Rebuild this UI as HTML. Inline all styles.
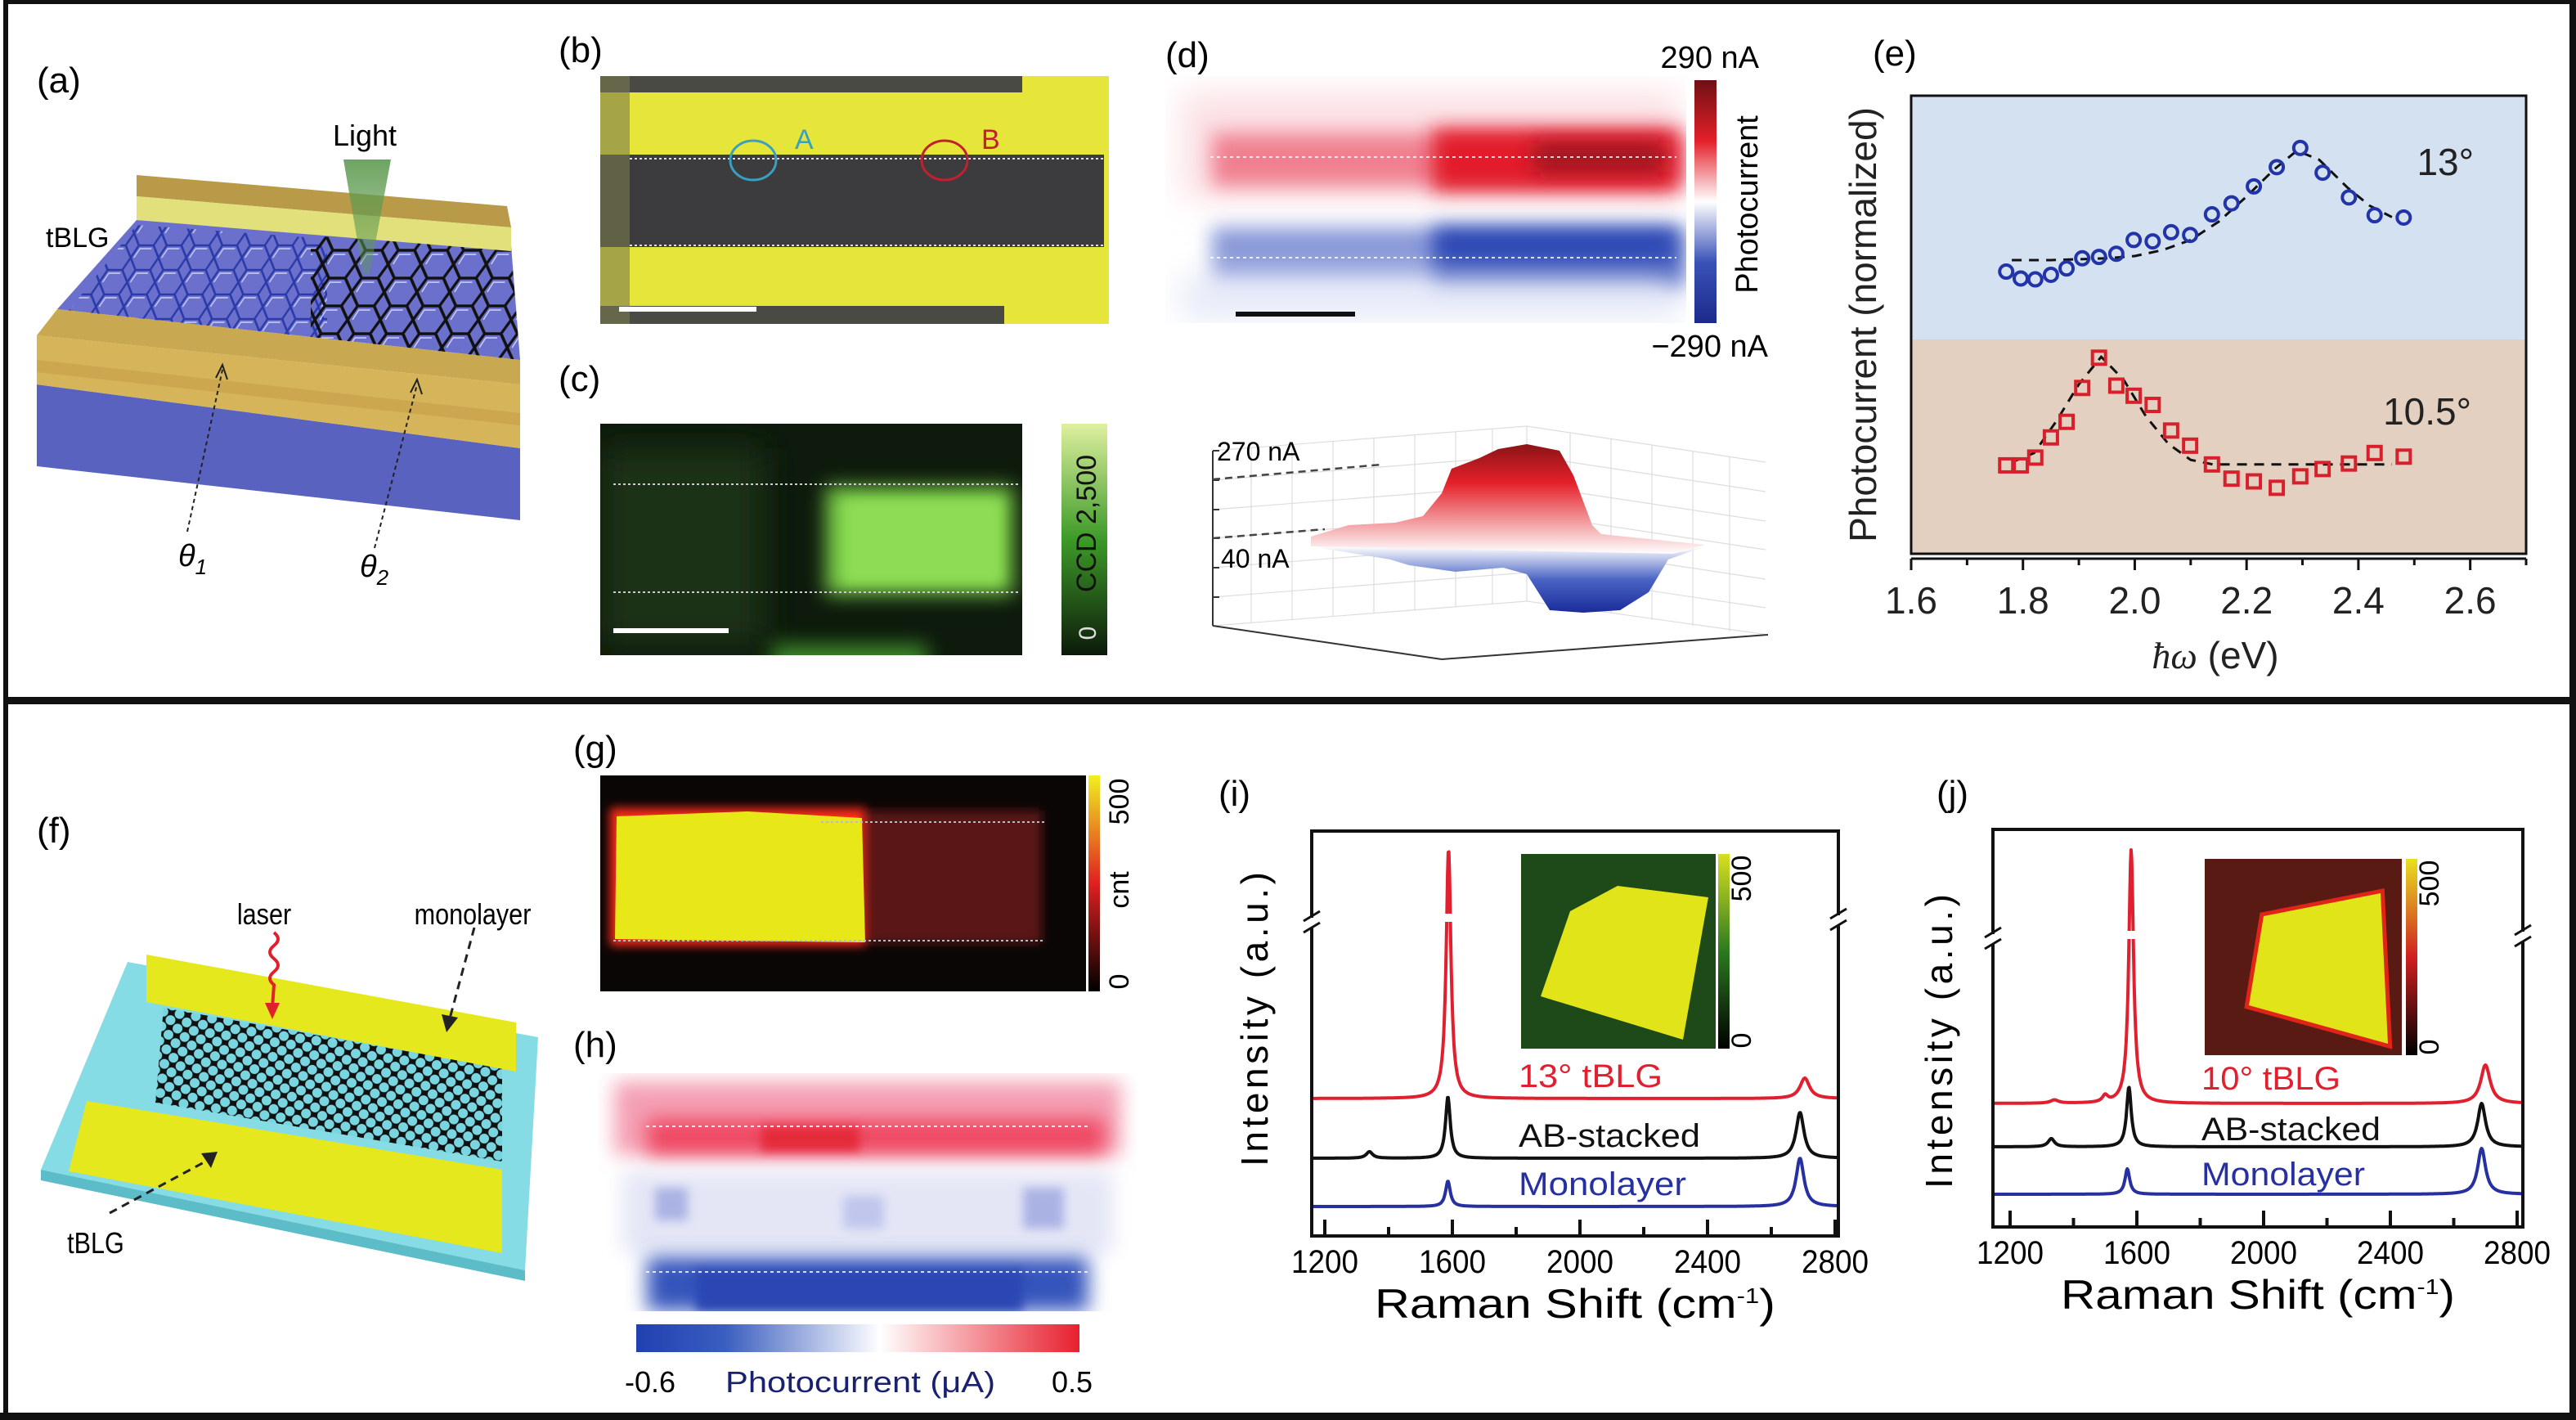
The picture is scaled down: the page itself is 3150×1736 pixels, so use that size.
<!DOCTYPE html>
<html><head><meta charset="utf-8">
<style>
html,body{margin:0;padding:0;background:#fff;}
svg{display:block;}
text{font-family:"Liberation Sans",sans-serif;}
</style></head>
<body>
<svg id="fig" xmlns="http://www.w3.org/2000/svg" width="3150" height="1736" viewBox="0 0 3150 1736">
<defs>
  <filter id="blur6" x="-50%" y="-200%" width="200%" height="500%"><feGaussianBlur stdDeviation="6"/></filter>
  <filter id="blur12" x="-50%" y="-200%" width="200%" height="500%"><feGaussianBlur stdDeviation="12"/></filter>
  <filter id="blur20" x="-50%" y="-200%" width="200%" height="500%"><feGaussianBlur stdDeviation="20"/></filter>
  <pattern id="hexBlue" width="34" height="30" patternUnits="userSpaceOnUse" patternTransform="skewX(-8)">
    <path d="M0 15 L8 0 L26 0 L34 15 L26 30 L8 30 Z" fill="none" stroke="#2a3aa8" stroke-width="2.5"/>
    <path d="M4 15 L10 4 L24 4" fill="none" stroke="#c8ccf0" stroke-width="1.5"/>
  </pattern>
  <pattern id="hexBlack" width="40" height="34" patternUnits="userSpaceOnUse" patternTransform="skewX(-8)">
    <path d="M0 17 L10 0 L30 0 L40 17 L30 34 L10 34 Z" fill="none" stroke="#111" stroke-width="3.5"/>
    <path d="M6 17 L12 5 L26 5" fill="none" stroke="#d0d4f4" stroke-width="1.5"/>
  </pattern>
  <pattern id="hexF" width="20" height="18" patternUnits="userSpaceOnUse" patternTransform="rotate(8)">
    <rect width="20" height="18" fill="#111"/>
    <circle cx="10" cy="9" r="6" fill="#79d6e0"/>
    <circle cx="0" cy="0" r="6" fill="#79d6e0"/>
    <circle cx="20" cy="0" r="6" fill="#79d6e0"/>
    <circle cx="0" cy="18" r="6" fill="#79d6e0"/>
    <circle cx="20" cy="18" r="6" fill="#79d6e0"/>
  </pattern>
  <linearGradient id="gCbarD" x1="0" y1="0" x2="0" y2="1">
    <stop offset="0" stop-color="#6e1014"/><stop offset="0.25" stop-color="#e4202a"/>
    <stop offset="0.5" stop-color="#ffffff"/><stop offset="0.75" stop-color="#3a52b8"/>
    <stop offset="1" stop-color="#1c2a8a"/>
  </linearGradient>
  <linearGradient id="gCbarC" x1="0" y1="1" x2="0" y2="0">
    <stop offset="0" stop-color="#0c1a0a"/><stop offset="0.5" stop-color="#3d9a28"/>
    <stop offset="1" stop-color="#dff0a0"/>
  </linearGradient>
  <linearGradient id="gCbarG" x1="0" y1="1" x2="0" y2="0">
    <stop offset="0" stop-color="#000"/><stop offset="0.5" stop-color="#e02020"/>
    <stop offset="1" stop-color="#f0f020"/>
  </linearGradient>
  <linearGradient id="gCbarH" x1="0" y1="0" x2="1" y2="0">
    <stop offset="0" stop-color="#2040b0"/><stop offset="0.2" stop-color="#3a5ec0"/>
    <stop offset="0.55" stop-color="#ffffff"/><stop offset="1" stop-color="#e8202e"/>
  </linearGradient>
  <linearGradient id="gCbarI" x1="0" y1="1" x2="0" y2="0">
    <stop offset="0" stop-color="#000"/><stop offset="0.5" stop-color="#2c7a20"/>
    <stop offset="1" stop-color="#d8e020"/>
  </linearGradient>
  <linearGradient id="gCbarJ" x1="0" y1="1" x2="0" y2="0">
    <stop offset="0" stop-color="#000"/><stop offset="0.5" stop-color="#d02020"/>
    <stop offset="1" stop-color="#e8e020"/>
  </linearGradient>
  <linearGradient id="gMount" x1="0" y1="0" x2="0" y2="1">
    <stop offset="0" stop-color="#8a1418"/><stop offset="0.35" stop-color="#e42028"/>
    <stop offset="1" stop-color="#ffffff"/>
  </linearGradient>
  <linearGradient id="gValley" x1="0" y1="0" x2="0" y2="1">
    <stop offset="0" stop-color="#ffffff"/><stop offset="0.5" stop-color="#4a64c4"/>
    <stop offset="1" stop-color="#1a2c9a"/>
  </linearGradient>
  <linearGradient id="gLight" x1="0" y1="0" x2="0" y2="1">
    <stop offset="0" stop-color="#5e9a50" stop-opacity="0.9"/><stop offset="1" stop-color="#5e9a50" stop-opacity="0.4"/>
  </linearGradient>
</defs>

<!-- frames -->
<rect x="0" y="0" width="3150" height="1736" fill="#fff"/>
<rect x="4" y="0" width="6" height="1736" fill="#111"/>
<rect x="3142" y="0" width="8" height="1736" fill="#111"/>
<rect x="4" y="0" width="3146" height="5" fill="#111"/>
<rect x="4" y="852" width="3146" height="9" fill="#111"/>
<rect x="0" y="1727" width="3150" height="9" fill="#111"/>

<!-- ===== Panel a ===== -->
<g>
  <text x="45" y="113" font-size="44">(a)</text>
  <polygon points="45,470 636,548 636,636 45,570" fill="#5a62c0"/>
  <polygon points="167,269 625,300 636,440 70,378" fill="#6b70cc"/>
  <clipPath id="clipA1"><polygon points="167,275 400,292 400,422 80,385"/></clipPath>
  <clipPath id="clipA2"><polygon points="380,288 625,305 636,440 380,420"/></clipPath>
  <rect x="60" y="260" width="360" height="180" fill="url(#hexBlue)" clip-path="url(#clipA1)"/>
  <rect x="370" y="280" width="280" height="180" fill="url(#hexBlack)" clip-path="url(#clipA2)"/>
  <polygon points="167,214 620,252 625,278 167,240" fill="#b89a48"/>
  <polygon points="167,240 625,278 625,307 167,269" fill="#e2e07a"/>
  <polygon points="70,378 636,440 636,470 45,410" fill="#c8a850"/>
  <polygon points="45,410 636,470 636,548 45,470" fill="#d6b45a"/>
  <polygon points="45,440 636,505 636,520 45,455" fill="#c49e48" opacity="0.6"/>
  <polygon points="420,195 478,195 452,335 444,335" fill="url(#gLight)"/>
  <text x="446" y="178" font-size="36" text-anchor="middle">Light</text>
  <text x="56" y="302" font-size="34">tBLG</text>
  <line x1="229" y1="650" x2="272" y2="452" stroke="#222" stroke-width="2" stroke-dasharray="5,4"/>
  <polyline points="264,462 272,446 278,464" fill="none" stroke="#222" stroke-width="2"/>
  <line x1="458" y1="670" x2="510" y2="470" stroke="#222" stroke-width="2" stroke-dasharray="5,4"/>
  <polyline points="502,480 510,464 516,482" fill="none" stroke="#222" stroke-width="2"/>
  <text x="218" y="692" font-size="38" font-style="italic" font-family="Liberation Serif">θ<tspan font-size="26" dy="10">1</tspan></text>
  <text x="440" y="705" font-size="38" font-style="italic" font-family="Liberation Serif">θ<tspan font-size="26" dy="10">2</tspan></text>
</g>

<!-- ===== Panel b ===== -->
<g>
  <text x="683" y="76" font-size="44">(b)</text>
  <rect x="734" y="93" width="622" height="303" fill="#e6e63a"/>
  <rect x="734" y="93" width="516" height="20" fill="#4a4a44"/>
  <rect x="734" y="189" width="616" height="113" fill="#3c3c3e"/>
  <rect x="734" y="374" width="494" height="22" fill="#4a4a44"/>
  <rect x="734" y="93" width="36" height="303" fill="#7a7a50" opacity="0.6"/>
  <line x1="770" y1="194" x2="1350" y2="194" stroke="#ddd" stroke-width="2" stroke-dasharray="3,3"/>
  <line x1="770" y1="300" x2="1350" y2="300" stroke="#ddd" stroke-width="2" stroke-dasharray="3,3"/>
  <ellipse cx="921" cy="196" rx="28" ry="24" fill="none" stroke="#3aa0c0" stroke-width="3"/>
  <ellipse cx="1155" cy="196" rx="28" ry="24" fill="none" stroke="#c02030" stroke-width="3"/>
  <text x="972" y="182" font-size="34" fill="#3aa0c0">A</text>
  <text x="1200" y="182" font-size="34" fill="#c02030">B</text>
  <rect x="757" y="375" width="168" height="6" fill="#fff"/>
</g>

<!-- ===== Panel c ===== -->
<g>
  <text x="683" y="478" font-size="44">(c)</text>
  <rect x="734" y="518" width="516" height="283" fill="#0d1a0c"/>
  <svg x="734" y="518" width="516" height="283">
    <rect x="276" y="77" width="229" height="132" fill="#7cd048" filter="url(#blur12)"/>
    <rect x="300" y="94" width="190" height="100" fill="#8edc54" filter="url(#blur6)"/>
    <rect x="0" y="30" width="200" height="240" fill="#1c3016" filter="url(#blur20)"/>
    <rect x="210" y="270" width="190" height="40" fill="#3e8a2a" filter="url(#blur12)"/>
  </svg>
  <line x1="750" y1="592" x2="1245" y2="592" stroke="#ccc" stroke-width="2" stroke-dasharray="3,3"/>
  <line x1="750" y1="724" x2="1245" y2="724" stroke="#ccc" stroke-width="2" stroke-dasharray="3,3"/>
  <rect x="750" y="768" width="141" height="6" fill="#fff"/>
  <rect x="1298" y="518" width="56" height="283" fill="url(#gCbarC)"/>
  <text transform="translate(1340,640) rotate(-90)" font-size="34" text-anchor="middle" fill="#111">CCD  2,500</text>
  <text transform="translate(1340,774) rotate(-90)" font-size="30" text-anchor="middle" fill="#ddd">0</text>
</g>

<!-- ===== Panel d ===== -->
<g>
  <text x="1425" y="82" font-size="44">(d)</text>
  <svg x="1425" y="93" width="637" height="302">
    <rect x="0" y="0" width="637" height="302" fill="#fff"/>
    <rect x="20" y="20" width="610" height="130" fill="#fbe0e4" filter="url(#blur20)"/>
    <rect x="57" y="70" width="580" height="65" fill="#f08090" filter="url(#blur12)"/>
    <rect x="327" y="65" width="300" height="75" fill="#e21e2c" filter="url(#blur12)"/>
    <rect x="450" y="82" width="160" height="35" fill="#9e1820" filter="url(#blur12)"/>
    <rect x="57" y="185" width="580" height="70" fill="#8898d8" filter="url(#blur12)"/>
    <rect x="327" y="185" width="300" height="75" fill="#2a46b4" filter="url(#blur12)"/>
    <rect x="20" y="245" width="610" height="50" fill="#e4e8f8" filter="url(#blur20)"/>
  </svg>
  <line x1="1480" y1="192" x2="2050" y2="192" stroke="#fff" stroke-width="2" stroke-dasharray="4,4" opacity="0.8"/>
  <line x1="1480" y1="315" x2="2050" y2="315" stroke="#fff" stroke-width="2" stroke-dasharray="4,4" opacity="0.8"/>
  <rect x="1511" y="381" width="146" height="6" fill="#111"/>
  <rect x="2072" y="98" width="27" height="297" fill="url(#gCbarD)"/>
  <text x="2151" y="83" font-size="38" text-anchor="end">290 nA</text>
  <text x="2162" y="436" font-size="38" text-anchor="end">−290 nA</text>
  <text transform="translate(2149,250) rotate(-90)" font-size="38" text-anchor="middle">Photocurrent</text>
  <g stroke="#ddd" stroke-width="1.2" fill="none">
    <polyline points="1483,551 1867,521 2159,565"/>
    <line x1="1483" y1="587" x2="1867" y2="557"/><line x1="1483" y1="623" x2="1867" y2="593"/>
    <line x1="1483" y1="658" x2="1867" y2="628"/><line x1="1483" y1="694" x2="1867" y2="664"/>
    <line x1="1483" y1="730" x2="1867" y2="700"/>
    <line x1="1867" y1="557" x2="2159" y2="601"/><line x1="1867" y1="593" x2="2159" y2="637"/>
    <line x1="1867" y1="628" x2="2159" y2="672"/><line x1="1867" y1="664" x2="2159" y2="708"/>
    <line x1="1867" y1="700" x2="2159" y2="743"/>
    <line x1="1867" y1="521" x2="1867" y2="735"/>
    <line x1="1530" y1="547" x2="1530" y2="761"/><line x1="1580" y1="543" x2="1580" y2="757"/>
    <line x1="1630" y1="539" x2="1630" y2="753"/><line x1="1680" y1="535" x2="1680" y2="749"/>
    <line x1="1730" y1="531" x2="1730" y2="745"/><line x1="1780" y1="528" x2="1780" y2="742"/>
    <line x1="1825" y1="524" x2="1825" y2="738"/>
    <line x1="1920" y1="529" x2="1920" y2="743"/><line x1="1970" y1="536" x2="1970" y2="750"/>
    <line x1="2020" y1="544" x2="2020" y2="758"/><line x1="2070" y1="551" x2="2070" y2="765"/>
    <line x1="2115" y1="558" x2="2115" y2="772"/>
    <line x1="1483" y1="765" x2="1867" y2="735"/><line x1="1867" y1="735" x2="2162" y2="776"/>
  </g>
  <polygon points="1603,656 1649,642 1706,639 1740,631 1763,603 1775,573 1809,560 1832,549 1867,543 1907,551 1924,581 1947,642 1958,653 2085,666 2045,677 1603,668" fill="url(#gMount)"/>
  <polygon points="1603,668 2045,677 2085,668 2040,684 2016,724 1981,746 1936,749 1895,746 1867,702 1838,694 1780,699 1723,691 1700,684" fill="url(#gValley)"/>
  <line x1="1483" y1="551" x2="1483" y2="765" stroke="#333" stroke-width="2"/>
  <line x1="1483" y1="765" x2="1763" y2="806" stroke="#333" stroke-width="2"/>
  <line x1="1763" y1="806" x2="2162" y2="776" stroke="#333" stroke-width="2"/>
  <g stroke="#333" stroke-width="2">
    <line x1="1483" y1="587" x2="1491" y2="587"/><line x1="1483" y1="623" x2="1491" y2="623"/>
    <line x1="1483" y1="658" x2="1491" y2="658"/><line x1="1483" y1="694" x2="1491" y2="694"/>
    <line x1="1483" y1="730" x2="1491" y2="730"/><line x1="1483" y1="551" x2="1491" y2="551"/>
  </g>
  <line x1="1483" y1="586" x2="1689" y2="568" stroke="#444" stroke-width="2.5" stroke-dasharray="9,6"/>
  <line x1="1483" y1="658" x2="1620" y2="647" stroke="#444" stroke-width="2.5" stroke-dasharray="9,6"/>
  <text x="1488" y="563" font-size="32">270 nA</text>
  <text x="1493" y="694" font-size="32">40 nA</text>
</g>

<!-- ===== Panel e ===== -->
<g id="panelE">
  <text x="2290" y="80" font-size="44">(e)</text>
</g>

<!-- ===== Panel f ===== -->
<g>
  <text x="45" y="1030" font-size="44">(f)</text>
  <polygon points="156,1176 658,1268 642,1553 50,1430" fill="#86dce4"/>
  <polygon points="50,1430 642,1553 642,1566 50,1443" fill="#5cbcc8"/>
  <polygon points="200,1232 614,1306 614,1420 190,1348" fill="url(#hexF)"/>
  <polygon points="179,1167 631,1250 631,1310 179,1225" fill="#e4e81c"/>
  <polygon points="106,1346 614,1430 614,1532 84,1432" fill="#e4e81c"/>
  <path d="M335,1140 q10,8 0,16 q-10,8 0,16 q10,8 0,16 q-10,8 0,16 L333,1232" fill="none" stroke="#e0202a" stroke-width="4"/>
  <polygon points="324,1226 342,1226 333,1246" fill="#e0202a"/>
  <line x1="580" y1="1134" x2="550" y2="1245" stroke="#222" stroke-width="3" stroke-dasharray="10,7"/>
  <polygon points="540,1240 560,1244 546,1262" fill="#222"/>
  <line x1="134" y1="1483" x2="255" y2="1418" stroke="#222" stroke-width="3" stroke-dasharray="10,7"/>
  <polygon points="246,1410 266,1408 258,1428" fill="#222"/>
  <text x="323" y="1130" font-size="36" text-anchor="middle" transform="translate(323,0) scale(0.85,1) translate(-323,0)">laser</text>
  <text x="578" y="1130" font-size="36" text-anchor="middle" transform="translate(578,0) scale(0.85,1) translate(-578,0)">monolayer</text>
  <text x="117" y="1532" font-size="36" text-anchor="middle" transform="translate(117,0) scale(0.85,1) translate(-117,0)">tBLG</text>
</g>

<!-- ===== Panel g ===== -->
<g>
  <text x="701" y="930" font-size="44">(g)</text>
  <rect x="734" y="948" width="594" height="264" fill="#0a0606"/>
  <svg x="734" y="948" width="594" height="264">
    <rect x="320" y="43" width="220" height="162" fill="#5a1414" filter="url(#blur6)"/>
    <rect x="12" y="40" width="312" height="168" fill="#ff2a1a" filter="url(#blur6)"/>
    <polygon points="20,50 180,44 320,52 324,204 160,202 18,200" fill="#e8e818"/>
  </svg>
  <line x1="1004" y1="1005" x2="1278" y2="1005" stroke="#bbb" stroke-width="2" stroke-dasharray="3,3"/>
  <line x1="750" y1="1150" x2="1278" y2="1150" stroke="#bbb" stroke-width="2" stroke-dasharray="3,3"/>
  <rect x="1331" y="948" width="14" height="264" fill="url(#gCbarG)"/>
  <text transform="translate(1380,980) rotate(-90)" font-size="34" text-anchor="middle">500</text>
  <text transform="translate(1380,1088) rotate(-90)" font-size="34" text-anchor="middle">cnt</text>
  <text transform="translate(1380,1200) rotate(-90)" font-size="34" text-anchor="middle">0</text>
</g>

<!-- ===== Panel h ===== -->
<g>
  <text x="701" y="1292" font-size="44">(h)</text>
  <svg x="731" y="1312" width="659" height="291">
    <rect width="659" height="291" fill="#fff"/>
    <rect x="20" y="10" width="620" height="90" fill="#f4a0b4" filter="url(#blur12)"/>
    <rect x="60" y="55" width="560" height="45" fill="#ee4a64" filter="url(#blur12)"/>
    <rect x="200" y="65" width="120" height="30" fill="#e42a3a" filter="url(#blur6)"/>
    <rect x="30" y="120" width="600" height="100" fill="#e4e6f6" filter="url(#blur12)"/>
    <rect x="70" y="140" width="40" height="40" fill="#aab2e4" filter="url(#blur6)"/>
    <rect x="520" y="140" width="50" height="50" fill="#aab2e4" filter="url(#blur6)"/>
    <rect x="300" y="150" width="50" height="40" fill="#c0c6ec" filter="url(#blur6)"/>
    <rect x="60" y="225" width="540" height="66" fill="#3454bc" filter="url(#blur12)"/>
    <rect x="120" y="240" width="400" height="51" fill="#2a46b4" filter="url(#blur6)"/>
  </svg>
  <line x1="790" y1="1377" x2="1330" y2="1377" stroke="#fff" stroke-width="2" stroke-dasharray="4,4" opacity="0.8"/>
  <line x1="790" y1="1555" x2="1330" y2="1555" stroke="#fff" stroke-width="2" stroke-dasharray="4,4" opacity="0.8"/>
  <rect x="778" y="1619" width="542" height="34" fill="url(#gCbarH)"/>
  <text x="795" y="1702" font-size="36" text-anchor="middle">-0.6</text>
  <text x="1052" y="1702" font-size="36" text-anchor="middle" fill="#1a2270" textLength="330" lengthAdjust="spacingAndGlyphs">Photocurrent (μA)</text>
  <text x="1311" y="1702" font-size="36" text-anchor="middle">0.5</text>
</g>

<!-- ===== Panels i, j ===== -->
<g id="panelI">
  <text x="1490" y="985" font-size="44">(i)</text>
</g>
<g id="panelJ">
  <text x="2368" y="985" font-size="44">(j)</text>
</g>

<script>
// ---------- Panel e data ----------
const eEnergy = [1.770,1.796,1.822,1.850,1.878,1.906,1.936,1.967,1.998,2.032,2.065,2.099,2.138,2.173,2.213,2.254,2.296,2.336,2.383,2.429,2.481];
const e13Values = [0.616,0.601,0.599,0.609,0.623,0.645,0.648,0.655,0.685,0.682,0.702,0.696,0.741,0.765,0.802,0.844,0.886,0.832,0.778,0.739,0.734];
const e105Values = [0.193,0.193,0.210,0.254,0.288,0.362,0.428,0.367,0.345,0.325,0.269,0.236,0.195,0.164,0.158,0.144,0.169,0.185,0.197,0.220,0.212];
const e13FitX = [1.78,1.85,1.95,2.00,2.05,2.10,2.15,2.20,2.25,2.29,2.33,2.38,2.42,2.46];
const e13FitY = [0.641,0.641,0.645,0.650,0.663,0.685,0.725,0.780,0.840,0.880,0.860,0.800,0.760,0.735];
const e105FitX = [1.78,1.82,1.86,1.90,1.94,1.98,2.02,2.06,2.10,2.14,2.20,2.30,2.40,2.46];
const e105FitY = [0.200,0.220,0.290,0.370,0.430,0.380,0.300,0.240,0.205,0.195,0.195,0.195,0.195,0.195];
const eTicks = [1.6,1.8,2.0,2.2,2.4,2.6];
const eTickLabels = ["1.6","1.8","2.0","2.2","2.4","2.6"];
const eMinorTicks = [1.7,1.9,2.1,2.3,2.5,2.7];

// ---------- Raman data (peak centre cm-1, height a.u., half-width cm-1) ----------
const ramanTicks = [1200,1600,2000,2400,2800];
const ramanTickLabels = ["1200","1600","2000","2400","2800"];
const ramanMinorTicks = [1400,1800,2200,2600];
const iOffsets = [33.6, 19.0, 7.2];
const iCenters = [[1588,2705],[1340,1586,2690],[1586,2690]];
const iHeights = [[61,5.0],[1.6,15,11.2],[6.2,11.8]];
const iWidths = [[9,18],[12,9,15],[9,15]];
const jOffsets = [30.2, 19.6, 8.0];
const jCenters = [[1340,1500,1582,2700],[1330,1575,2688],[1570,2688]];
const jHeights = [[0.8,1.6,62,9.4],[2.0,14.6,10.6],[6.2,11.2]];
const jWidths = [[15,10,9,18],[12,9,15],[9,15]];
const traceNames = ["13° tBLG","AB-stacked","Monolayer"];
const traceNamesJ = ["10° tBLG","AB-stacked","Monolayer"];

const NS = "http://www.w3.org/2000/svg";
function mk(parent, tag, attrs, txt){
  const el = document.createElementNS(NS, tag);
  for (const k in attrs) el.setAttribute(k, attrs[k]);
  if (txt !== undefined) el.textContent = txt;
  parent.appendChild(el);
  return el;
}

// ---------- draw panel e ----------
(function(){
  const g = document.getElementById('panelE');
  const L = 2337, R = 3089, T = 117, B = 677;
  const xMin = 1.6, xMax = 2.7;
  const xs = v => L + (v - xMin) / (xMax - xMin) * (R - L);
  const ys = v => B - v * (B - T);
  let el;
  el = mk(g, 'rect', {x:L, y:T, width:R-L, height:415-T, fill:'#d4e1f1'});
  
  
  el = mk(g, 'rect', {x:L, y:415, width:R-L, height:B-415, fill:'#e4d0c0'});
  
  
  el = mk(g, 'rect', {x:L, y:T, width:R-L, height:B-T, fill:'none', stroke:'#111', 'stroke-width':3});
  
  
  mk(g, 'line', {x1:L, y1:B+6, x2:R, y2:B+6, stroke:'#111', 'stroke-width':3});
  eTicks.forEach((t, k) => {
    mk(g, 'line', {x1:xs(t), y1:B+6, x2:xs(t), y2:B+20, stroke:'#111', 'stroke-width':3});
    const tl = mk(g, 'text', {x:xs(t), y:750, 'font-size':46, 'text-anchor':'middle', fill:'#222'}, eTickLabels[k]);
    
    
  });
  eMinorTicks.forEach(t => {
    mk(g, 'line', {x1:xs(t), y1:B+6, x2:xs(t), y2:B+14, stroke:'#111', 'stroke-width':3});
  });
  function fit(xa, ya, name){
    const p = xa.map((x,k) => xs(x).toFixed(1) + ',' + ys(ya[k]).toFixed(1)).join(' ');
    const pl = mk(g, 'polyline', {points:p, fill:'none', stroke:'#111', 'stroke-width':3, 'stroke-dasharray':'12,9'});
    
    
  }
  fit(e13FitX, e13FitY, 'fit-13deg');
  fit(e105FitX, e105FitY, 'fit-10-5deg');
  eEnergy.forEach((x, k) => {
    const c = mk(g, 'circle', {cx:xs(x), cy:ys(e13Values[k]), r:8, fill:'none', stroke:'#2234a8', 'stroke-width':4});
    
    
    const s = mk(g, 'rect', {x:xs(x)-8, y:ys(e105Values[k])-8, width:16, height:16, fill:'none', stroke:'#d8202c', 'stroke-width':4});
    
    
  });
  el = mk(g, 'text', {x:3025, y:214, 'font-size':46, 'text-anchor':'end', fill:'#222'}, '13°');
  
  
  el = mk(g, 'text', {x:3022, y:519, 'font-size':46, 'text-anchor':'end', fill:'#222'}, '10.5°');
  
  
  el = mk(g, 'text', {transform:'translate(2294,397) rotate(-90)', 'font-size':46, 'text-anchor':'middle', fill:'#222'}, 'Photocurrent (normalized)');
  
  
  el = mk(g, 'text', {x:2709, y:817, 'font-size':46, 'text-anchor':'middle', fill:'#222'});
  
  
  mk(el, 'tspan', {'font-style':'italic', 'font-family':'Liberation Serif'}, 'ħω');
  mk(el, 'tspan', {}, ' (eV)');
})();

// ---------- draw Raman panels ----------
function drawRaman(gid, box, offsets, centers, heights, widths, names, colors, breakY, inset){
  const g = document.getElementById(gid);
  const {L, R, T, B, x1200, x2800} = box;
  const xs = v => x1200 + (v - 1200) / 1600 * (x2800 - x1200);
  const ys = v => B - v * 5;
  const vMin = 1200 - (x1200 - L) / (x2800 - x1200) * 1600;
  const vMax = 1200 + (R - x1200) / (x2800 - x1200) * 1600;
  let el;
  el = mk(g, 'rect', {x:inset.x, y:inset.y, width:inset.w, height:inset.h, fill:inset.bg});
  
  
  if (inset.edge) {
    mk(g, 'polygon', {points:inset.poly, fill:'none', stroke:inset.edge, 'stroke-width':10});
  }
  mk(g, 'polygon', {points:inset.poly, fill:'#e0e418'});
  el = mk(g, 'rect', {x:inset.cx, y:inset.y, width:14, height:inset.h, fill:inset.cbar});
  
  
  el = mk(g, 'text', {transform:'translate(' + (inset.cx+40) + ',' + (inset.y+30) + ') rotate(-90)', 'font-size':34, 'text-anchor':'middle'}, '500');
  
  
  el = mk(g, 'text', {transform:'translate(' + (inset.cx+40) + ',' + (inset.y+inset.h-10) + ') rotate(-90)', 'font-size':34, 'text-anchor':'middle'}, '0');
  
  
  for (let s = 0; s < 3; s++) {
    const pts = [];
    for (let v = vMin; v <= vMax; v += 2) {
      let y = offsets[s];
      for (let p = 0; p < centers[s].length; p++) {
        const d = v - centers[s][p], w = widths[s][p];
        y += heights[s][p] * w * w / (d * d + w * w);
      }
      pts.push(xs(v).toFixed(1) + ',' + Math.max(ys(y), T + 22).toFixed(1));
    }
    const pl = mk(g, 'polyline', {points:pts.join(' '), fill:'none', stroke:colors[s], 'stroke-width':4, 'stroke-linejoin':'round'});
    
    
  }
  const gc = centers[0][heights[0].indexOf(Math.max(...heights[0]))];
  mk(g, 'rect', {x:xs(gc) - 20, y:breakY - 5, width:40, height:10, fill:'#fff'});
  const ly = [box.l0, box.l1, box.l2];
  for (let s = 0; s < 3; s++) {
    const t = mk(g, 'text', {x:box.lx, y:ly[s], 'font-size':40, fill:colors[s], textLength:box.lw[s], lengthAdjust:'spacingAndGlyphs'}, names[s]);
    
    
  }
  el = mk(g, 'rect', {x:L, y:T, width:R-L, height:B-T, fill:'none', stroke:'#111', 'stroke-width':4});
  
  
  [L, R].forEach(xx => {
    const by = xx === L ? box.bl : box.br;
    mk(g, 'rect', {x:xx-6, y:by-6, width:12, height:12, fill:'#fff'});
    mk(g, 'line', {x1:xx-10, y1:by-2, x2:xx+10, y2:by-14, stroke:'#111', 'stroke-width':3});
    mk(g, 'line', {x1:xx-10, y1:by+12, x2:xx+10, y2:by, stroke:'#111', 'stroke-width':3});
  });
  ramanTicks.forEach((t, k) => {
    mk(g, 'line', {x1:xs(t), y1:B, x2:xs(t), y2:B-20, stroke:'#111', 'stroke-width':4});
    const tl = mk(g, 'text', {x:xs(t), y:B+45, 'font-size':40, 'text-anchor':'middle', textLength:82, lengthAdjust:'spacingAndGlyphs'}, ramanTickLabels[k]);
    
    
  });
  ramanMinorTicks.forEach(t => {
    mk(g, 'line', {x1:xs(t), y1:B, x2:xs(t), y2:B-11, stroke:'#111', 'stroke-width':4});
  });
  el = mk(g, 'text', {x:(L+R)/2, y:B+100, 'font-size':50, 'text-anchor':'middle', textLength:box.xtl, lengthAdjust:'spacingAndGlyphs'});
  
  
  mk(el, 'tspan', {}, 'Raman Shift (cm');
  mk(el, 'tspan', {'font-size':26, dy:-18}, '-1');
  mk(el, 'tspan', {dy:18}, ')');
  el = mk(g, 'text', {transform:'translate(' + box.yx + ',' + box.yy + ') rotate(-90)', 'font-size':46, 'text-anchor':'middle', textLength:360, lengthAdjust:'spacing'}, 'Intensity (a.u.)');
  
  
}
const ramanColors = ['#e0202e', '#111111', '#2630a0'];
drawRaman('panelI',
  {L:1604, R:2248, T:1016, B:1511, x1200:1620, x2800:2244, lx:1857, l0:1329, l1:1402, l2:1461, lw:[176,222,205], bl:1128, br:1125, yx:1550, yy:1246, xtl:490},
  iOffsets, iCenters, iHeights, iWidths, traceNames, ramanColors, 1122,
  {x:1860, y:1044, w:238, h:238, bg:'#1e4a1a', cbar:'url(#gCbarI)', cx:2101, poly:'1920,1114 1978,1083 2089,1097 2058,1271 1884,1218'});
drawRaman('panelJ',
  {L:2437, R:3085, T:1014, B:1500, x1200:2458, x2800:3078, lx:2692, l0:1332, l1:1394, l2:1449, lw:[170,219,200], bl:1148, br:1145, yx:2387, yy:1273, xtl:482},
  jOffsets, jCenters, jHeights, jWidths, traceNamesJ, ramanColors, 1143,
  {x:2696, y:1050, w:241, h:240, bg:'#5a1a14', cbar:'url(#gCbarJ)', cx:2942, poly:'2768,1120 2911,1092 2920,1276 2750,1229', edge:'#e02418'});
</script>
</svg>
</body></html>
